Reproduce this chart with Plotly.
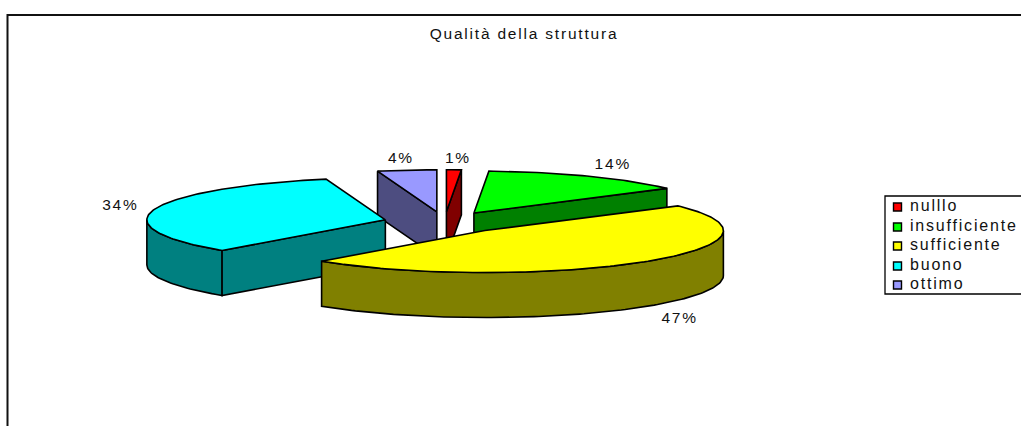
import math
import plotly.graph_objects as go

title = "Qualità della struttura"
categories = ["nulllo", "insufficiente", "sufficiente", "buono", "ottimo"]
shares = [1, 14, 47, 34, 4]
top_colors = ["#FF0000", "#00FF00", "#FFFF00", "#00FFFF", "#9999FF"]
wall_colors = ["#800000", "#008000", "#808000", "#008080", "#4D4D80"]

# projection of the tilted pie into the 1021x426 page
CX, CY, RX, RY, DEPTH, EXPLODE = 444.5, 222.5, 238.5, 42, 45, 0.256
draw_order = [1, 0, 4, 3, 2]
label_offset = [(4, -11), (24, -11), (37, 12), (-34, -3), (-6, -11)]
legend_y = [207, 227, 246, 266, 285]
LINE = 1.6
FS = 15.5
LEGEND_FS = 16

total = sum(shares)
spans, acc = [], 0.0
for s in shares:
    a0 = acc / total * 2 * math.pi
    acc += s
    spans.append((a0, acc / total * 2 * math.pi))


def pt(ax, ay, t, dy=0.0):
    return ax + RX * math.sin(t), ay - RY * math.cos(t) + dy


def arc(ax, ay, t0, t1, dy=0.0):
    n = max(2, int((t1 - t0) / 0.02))
    return [pt(ax, ay, t0 + (t1 - t0) * i / n, dy) for i in range(n + 1)]


fig = go.Figure()


def poly(points, color):
    xs = [p[0] for p in points] + [points[0][0]]
    ys = [p[1] for p in points] + [points[0][1]]
    fig.add_trace(go.Scatter(x=xs, y=ys, mode="lines", fill="toself", fillcolor=color,
                             line=dict(color="black", width=LINE), showlegend=False,
                             hoverinfo="skip"))


apex = []
for t0, t1 in spans:
    m = (t0 + t1) / 2
    apex.append((CX + EXPLODE * RX * math.sin(m), CY - EXPLODE * RY * math.cos(m)))

for i in draw_order:
    t0, t1 = spans[i]
    ax, ay = apex[i]
    wall = wall_colors[i]
    # radial wall seen at the end of the slice
    if math.sin(t1) > 0.001:
        poly([(ax, ay), pt(ax, ay, t1), pt(ax, ay, t1, DEPTH), (ax, ay + DEPTH)], wall)
    # rim, only the part that faces the viewer
    lo, hi = max(t0, math.pi / 2), min(t1, 3 * math.pi / 2)
    if hi > lo:
        poly(arc(ax, ay, lo, hi) + arc(ax, ay, lo, hi, DEPTH)[::-1], wall)
    # radial wall seen at the start of the slice
    if math.sin(t0) < -0.001:
        poly([(ax, ay), pt(ax, ay, t0), pt(ax, ay, t0, DEPTH), (ax, ay + DEPTH)], wall)
    poly([(ax, ay)] + arc(ax, ay, t0, t1), top_colors[i])

# percentage labels
lx, ly, lt = [], [], []
for i, (t0, t1) in enumerate(spans):
    m = (t0 + t1) / 2
    ox, oy = pt(*apex[i], m)
    if math.cos(m) < 0:
        oy += DEPTH
    lx.append(ox + label_offset[i][0])
    ly.append(oy + label_offset[i][1])
    lt.append(f"{shares[i]}%")
fig.add_trace(go.Scatter(x=lx, y=ly, mode="text", text=lt, textposition="middle center",
                         textfont=dict(family="Liberation Sans", size=FS, color="#111111"),
                         showlegend=False, hoverinfo="skip"))

# legend
fig.add_trace(go.Scatter(x=[897.5] * 5, y=legend_y, mode="markers",
                         marker=dict(symbol="square", size=8, color=top_colors,
                                     line=dict(color="black", width=1.4)),
                         showlegend=False, hoverinfo="skip"))
fig.add_trace(go.Scatter(x=[910] * 5, y=legend_y, mode="text", text=categories,
                         textposition="middle right",
                         textfont=dict(family="Liberation Sans", size=LEGEND_FS, color="#111111"),
                         showlegend=False, hoverinfo="skip"))

shapes = [
    dict(type="rect", x0=885, x1=1030, y0=196, y1=294, line=dict(color="black", width=1.3),
         fillcolor="white", layer="below"),
    dict(type="path", path="M 7.5 430 L 7.5 15 L 1030 15", line=dict(color="#111111", width=2),
         layer="below"),
]

fig.update_layout(
    width=1021, height=426, autosize=False,
    margin=dict(l=0, r=0, t=0, b=0),
    paper_bgcolor="white", plot_bgcolor="white",
    showlegend=False, shapes=shapes,
    xaxis=dict(range=[0, 1021], visible=False, domain=[0, 1]),
    yaxis=dict(range=[426, 0], visible=False, domain=[0, 1]),
    title=dict(text=title, x=524 / 1021, xanchor="center", y=1 - 34 / 426, yanchor="middle",
               font=dict(family="Liberation Sans", size=FS, color="#111111")),
)

page_fix = ("document.body.style.margin='0';document.body.style.overflow='hidden';"
            "document.querySelectorAll('svg text').forEach(function(t){"
            "t.style.letterSpacing='1.8px';});")
fig.write_html("out.html", post_script=page_fix, config=dict(displayModeBar=False))
